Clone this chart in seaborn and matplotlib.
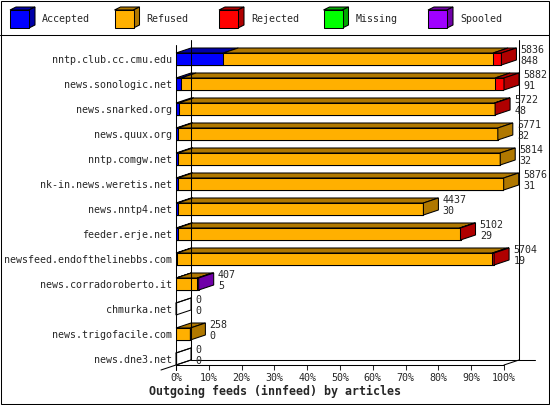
import numpy as np
import pandas as pd
import matplotlib
matplotlib.use('Agg')
import matplotlib.pyplot as plt
from matplotlib.patches import Polygon, Rectangle
import seaborn as sns

# innfeed outgoing feeds, article counts per peer
hosts = ['nntp.club.cc.cmu.edu', 'news.sonologic.net', 'news.snarked.org',
         'news.quux.org', 'nntp.comgw.net', 'nk-in.news.weretis.net',
         'news.nntp4.net', 'feeder.erje.net', 'newsfeed.endofthelinebbs.com',
         'news.corradoroberto.it', 'chmurka.net', 'news.trigofacile.com',
         'news.dne3.net']
offered = [5836, 5882, 5722, 5771, 5814, 5876, 4437, 5102, 5704, 407, 0, 258, 0]
accepted = [848, 91, 48, 32, 32, 31, 30, 29, 19, 5, 0, 0, 0]
refused = [4838, 5631, 5664, 5739, 5782, 5845, 4407, 5058, 5655, 377, 0, 258, 0]
rejected = [150, 160, 10, 0, 0, 0, 0, 15, 30, 0, 0, 0, 0]
missing = [0, 0, 0, 0, 0, 0, 0, 0, 0, 0, 0, 0, 0]
spooled = [0, 0, 0, 0, 0, 0, 0, 0, 0, 25, 0, 0, 0]

categories = ['Accepted', 'Refused', 'Rejected', 'Missing', 'Spooled']
front_colors = ['#0000ff', '#ffb000', '#ff0000', '#00ff00', '#a000ff']
dark_colors = ['#0000a8', '#b07800', '#b00000', '#00a800', '#7000a8']

sns.set_style('white')
plt.rcParams['font.family'] = ['DejaVu Sans Mono']
plt.rcParams['font.size'] = 7.2

W, H = 550, 405
LW = 0.75
fig = plt.figure(figsize=(W / 100, H / 100), dpi=100)

# decoration layer (border, legend, title) in pixel coordinates
deco = fig.add_axes([0, 0, 1, 1])
deco.set_xlim(0, W)
deco.set_ylim(H, 0)
deco.axis('off')
deco.add_patch(Rectangle((0.5, 0.5), W - 1.5, H - 1.5, fill=False, lw=LW, ec='black'))
deco.plot([0, W], [35, 35], color='black', lw=LW)
for i, (name, fc, dc) in enumerate(zip(categories, front_colors, dark_colors)):
    x0 = 10 + i * 104.5
    deco.add_patch(Polygon([(x0, 10), (x0 + 19, 10), (x0 + 25, 7), (x0 + 6, 7)],
                           fc=dc, ec='black', lw=LW))
    deco.add_patch(Polygon([(x0 + 19, 10), (x0 + 25, 7), (x0 + 25, 25), (x0 + 19, 28)],
                           fc=dc, ec='black', lw=LW))
    deco.add_patch(Rectangle((x0, 10), 19, 18, fc=fc, ec='black', lw=LW))
    deco.text(x0 + 32, 19.5, name, ha='left', va='center')
deco.text(W / 2, 391, 'Outgoing feeds (innfeed) by articles', ha='center',
          va='center', fontweight='bold', fontsize=8.4)

# main plot
ax = fig.add_axes([176 / W, (H - 365) / H, 328 / W, 325 / H])
ax.set_facecolor('none')

df = pd.DataFrame({'host': hosts, 'Accepted': accepted, 'Refused': refused,
                   'Rejected': rejected, 'Missing': missing, 'Spooled': spooled})
scale = max(offered)
pct = df[categories] / scale * 100
cum = pct.cumsum(axis=1)

for k in reversed(range(len(categories))):
    sns.barplot(x=cum[categories[k]], y=df['host'], orient='h', order=hosts,
                width=0.48, color=front_colors[k], saturation=1,
                edgecolor='black', linewidth=LW, errorbar=None, ax=ax)

# pseudo-3D depth
dx = 15 / 328 * 100
dy = 5 / 25
half = 0.24
for i in range(len(hosts)):
    t, b = i - half, i + half
    left = 0.0
    last = None
    for k, c in enumerate(categories):
        w = pct.loc[i, c]
        if w > 0:
            ax.add_patch(Polygon([(left, t), (left + w, t), (left + w + dx, t - dy),
                                  (left + dx, t - dy)], fc=dark_colors[k],
                                 ec='black', lw=LW, clip_on=False))
            left += w
            last = k
    side_fc = dark_colors[last] if last is not None else 'none'
    if last is None:
        ax.plot([0, dx], [t, t - dy], color='black', lw=LW, clip_on=False)
    ax.add_patch(Polygon([(left, t), (left + dx, t - dy), (left + dx, b - dy),
                          (left, b)], fc=side_fc, ec='black', lw=LW, clip_on=False))
    ax.text(left + dx + 1.3, i - 0.36, str(offered[i]), ha='left', va='center')
    ax.text(left + dx + 1.3, i + 0.08, str(accepted[i]), ha='left', va='center')

# frame of the 3D box
bot_front = 12.24
bot_back = bot_front - dy
top_back = -0.76
frame = dict(color='black', lw=LW, clip_on=False)
ax.plot([0, 0], [-0.56, 12.44], **frame)
ax.plot([dx, dx], [top_back, bot_back], **frame)
ax.plot([100 + dx, 100 + dx], [top_back, bot_back], **frame)
ax.plot([dx, (535 - 176) / 328 * 100], [bot_back, bot_back], **frame)
ax.plot([0, 100], [bot_front, bot_front], **frame)
ax.plot([100, 100 + dx], [bot_front, bot_back], **frame)
ax.plot([-dx, dx], [bot_front + dy, bot_back], **frame)

ax.set_xlim(0, 100)
ax.set_ylim(bot_front, top_back)
ax.set_xticks(range(0, 101, 10))
ax.set_xticklabels([f'{v}%' for v in range(0, 101, 10)])
ax.tick_params(axis='x', direction='out', length=3.6, width=LW, pad=2, bottom=True)
ax.tick_params(axis='y', length=0, pad=3)
ax.set_xlabel('')
ax.set_ylabel('')
for s in ax.spines.values():
    s.set_visible(False)

fig.savefig('out.png', dpi=100)
